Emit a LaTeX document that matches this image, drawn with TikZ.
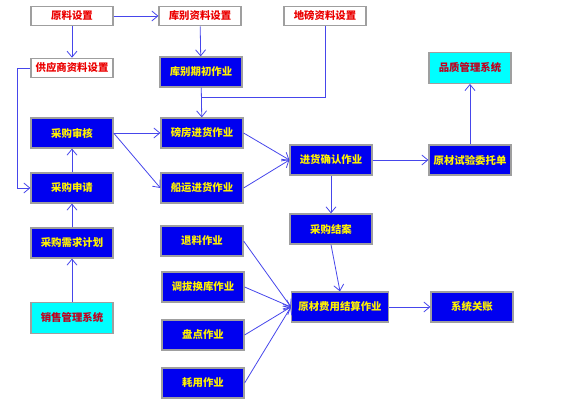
\documentclass[tikz,border=0pt]{standalone}
\usepackage{fontspec}
\setmainfont{Noto Sans CJK SC}
\usetikzlibrary{arrows.meta,positioning,calc}
\definecolor{boxblue}{RGB}{0,0,240}
\definecolor{linkblue}{RGB}{70,70,235}
\definecolor{setred}{RGB}{235,0,0}
\definecolor{sysred}{RGB}{190,0,30}
\definecolor{syscyan}{RGB}{0,255,255}
\begin{document}
\begin{tikzpicture}[x=0.75pt,y=-0.75pt,>={Straight Barb[length=4.5pt,width=7.5pt]},
  work/.style={draw=gray!75,line width=0.9pt,fill=boxblue,text=yellow,
    font=\bfseries\fontsize{7.8}{9}\selectfont,minimum width=61.5pt,minimum height=22.5pt,inner sep=0pt},
  setting/.style={work,fill=white,text=setred,minimum height=14.5pt},
  outer/.style={work,fill=syscyan,text=sysred,minimum height=23pt},
  link/.style={->,linkblue,line width=0.6pt}]
  \useasboundingbox (0,0) rectangle (579,409);
  % settings row
  \node[setting] (yuanliao) at (72,16) {原料设置};
  \node[setting] (kubie) at (200,16) {库别资料设置};
  \node[setting] (dibang) at (325,16) {地磅资料设置};
  \node[setting] (gongying) at (72,68) {供应商资料设置};
  \node[work] (qichu) at (201,72) {库别期初作业};
  \node[outer] (pinzhi) at (470,68) {品质管理系统};
  % purchasing column
  \node[work] (shenhe) at (72,133) {采购审核};
  \node[work] (shenqing) at (72,188) {采购申请};
  \node[work] (xuqiu) at (72,243) {采购需求计划};
  \node[outer] (xiaoshou) at (72,318) {销售管理系统};
  % receiving
  \node[work] (bangfang) at (202,133) {磅房进货作业};
  \node[work] (chuanyun) at (202,188) {船运进货作业};
  \node[work] (queren) at (331,160) {进货确认作业};
  \node[work] (shiyan) at (470,160) {原材试验委托单};
  \node[work] (jiean) at (331,229) {采购结案};
  % stock operations
  \node[work] (tuiliao) at (202,241) {退料作业};
  \node[work] (diaobo) at (203,287) {调拔换库作业};
  \node[work] (pandian) at (203,335) {盘点作业};
  \node[work] (haoyong) at (203,383) {耗用作业};
  \node[work,minimum width=72.75pt] (jiesuan) at (340,307) {原材费用结算作业};
  \node[work] (guanzhang) at (472,307) {系统关账};
  % links
  \draw[link] (yuanliao) -- (kubie);
  \draw[link] (yuanliao) -- (gongying);
  \draw[link] (kubie) -- (qichu);
  \coordinate (join) at (201,97);
  \draw[linkblue,line width=0.6pt] (dibang.south) |- (join);
  \draw[link] (qichu) -- (bangfang);
  \coordinate (bend) at (17,68);
  \draw[link] (gongying.west) -- (bend) |- (shenqing.west);
  \draw[link] (xiaoshou) -- (xuqiu);
  \draw[link] (xuqiu) -- (shenqing);
  \draw[link] (shenqing) -- (shenhe);
  \draw[link] (shenhe.east) -- (bangfang.west);
  \draw[link] (shenhe.east) -- (chuanyun.west);
  \draw[link] (bangfang.east) -- (queren.west);
  \draw[link] (chuanyun.east) -- (queren.west);
  \draw[link] (queren) -- (shiyan);
  \draw[link] (shiyan) -- (pinzhi);
  \draw[link] (queren) -- (jiean);
  \draw[link] (jiean.south) -- (jiesuan.north);
  \foreach \op in {tuiliao,diaobo,pandian,haoyong}
    \draw[link] (\op.east) -- (jiesuan.west);
  \draw[link] (jiesuan) -- (guanzhang);
\end{tikzpicture}
\end{document}
